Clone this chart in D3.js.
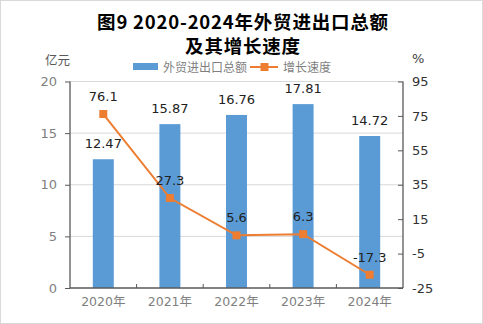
<!DOCTYPE html>
<html><head><meta charset="utf-8">
<script src="https://cdn.jsdelivr.net/npm/d3@7"></script>
<style>body{margin:0;background:#fff}svg{display:block}text{font-family:"Noto Sans CJK SC","Noto Sans",sans-serif}</style>
</head><body><svg id="c" width="483" height="324"></svg>
<script>
const categories = ["2020年","2021年","2022年","2023年","2024年"];
const tradeValues = [12.47, 15.87, 16.76, 17.81, 14.72];
const growthRates = [76.1, 27.3, 5.6, 6.3, -17.3];
const leftTicks = [0,5,10,15,20];
const rightTicks = [-25,-5,15,35,55,75,95];
const titleLines = ["图9 2020-2024年外贸进出口总额","及其增长速度"];
const seriesNames = ["外贸进出口总额","增长速度"];

const svg = d3.select("#c");
const W=483,H=324;
svg.append("rect").attr("x",0.5).attr("y",0.5).attr("width",W-1).attr("height",H-1)
  .attr("fill","#fff").attr("stroke","#d9d9d9");
const L=70,R=403,T=81.5,B=288;
const x = d3.scaleBand().domain(categories).range([L,R]).paddingInner(0.685).paddingOuter(0.3425);
const xb = d3.scaleBand().domain(categories).range([L,R]);
const yL = d3.scaleLinear().domain([0,20]).range([B,T]);
const yR = d3.scaleLinear().domain([-25,95]).range([B,T]);
const fmt = d => String(d);

// gridlines
svg.append("g").selectAll("line").data(leftTicks.filter(d=>d>0)).join("line")
  .attr("x1",L).attr("x2",R).attr("y1",d=>yL(d)).attr("y2",d=>yL(d)).attr("stroke","#d9d9d9");

// title
svg.append("g").selectAll("text").data(titleLines).join("text")
  .attr("x",243).attr("y",(d,i)=>29+i*24).attr("text-anchor","middle")
  .attr("font-size",18.5).attr("font-weight","bold").attr("letter-spacing",0.8).attr("fill","#000").text(d=>d);

// units
svg.append("text").attr("x",45).attr("y",65).attr("font-size",12.5).attr("fill","#595959").text("亿元");
svg.append("text").attr("x",412).attr("y",63).attr("font-size",13).attr("fill","#404040").style("font-family","'DejaVu Sans',sans-serif").text("%");

// legend
const lg = svg.append("g");
lg.append("rect").attr("x",133).attr("y",63).attr("width",25).attr("height",7).attr("fill","#5B9BD5");
lg.append("text").attr("x",163).attr("y",71.5).attr("font-size",12).attr("fill","#7f7f7f").text(seriesNames[0]);
lg.append("line").attr("x1",250).attr("x2",278).attr("y1",67).attr("y2",67).attr("stroke","#ED7D31").attr("stroke-width",2);
lg.append("rect").attr("x",260.5).attr("y",63).attr("width",8).attr("height",8).attr("fill","#ED7D31");
lg.append("text").attr("x",283).attr("y",71.5).attr("font-size",12).attr("fill","#7f7f7f").text(seriesNames[1]);

// bars
svg.append("g").selectAll("rect").data(tradeValues).join("rect")
  .attr("x",(d,i)=>x(categories[i])).attr("width",x.bandwidth())
  .attr("y",d=>yL(d)).attr("height",d=>B-yL(d)).attr("fill","#5B9BD5");

// axes
const axL = svg.append("g").attr("transform",`translate(${L},0)`)
  .call(d3.axisLeft(yL).tickValues(leftTicks).tickFormat(fmt).tickSize(5).tickPadding(8));
const axR = svg.append("g").attr("transform",`translate(${R},0)`)
  .call(d3.axisRight(yR).tickValues(rightTicks).tickFormat(fmt).tickSize(0).tickPadding(9));
axR.selectAll(".tick").append("line").attr("x1",-5).attr("x2",0).attr("stroke","#595959");
const axB = svg.append("g").attr("transform",`translate(0,${B})`)
  .call(d3.axisBottom(xb).tickSize(0).tickPadding(9));
// boundary ticks on bottom axis
svg.append("g").selectAll("line").data(categories.slice(1)).join("line")
  .attr("x1",d=>xb(d)).attr("x2",d=>xb(d)).attr("y1",B).attr("y2",B-4).attr("stroke","#595959");
[axL,axR,axB].forEach(a=>{
  a.selectAll(".domain").attr("stroke","#595959").attr("stroke-width",1.3);
  a.selectAll(".tick line").attr("stroke","#595959");
  a.selectAll("text").attr("font-size",13).style("font-family","'DejaVu Sans',sans-serif");
});
axL.selectAll("text").attr("fill","#7f7f7f");
axR.selectAll("text").attr("fill","#333");
axB.selectAll("text").attr("font-size",12.5).attr("fill","#7f7f7f").style("font-family","'DejaVu Sans','Noto Sans CJK SC',sans-serif");
axL.select(".domain").attr("d",`M-0,${T}V${B}`);
axR.select(".domain").attr("d",`M0,${T}V${B}`);
axB.select(".domain").attr("d",`M${L},0H${R}`);

// line
const cx = i => xb(categories[i]) + xb.bandwidth()/2;
svg.append("path").datum(growthRates)
  .attr("d",d3.line().x((d,i)=>cx(i)).y(d=>yR(d)))
  .attr("fill","none").attr("stroke","#ED7D31").attr("stroke-width",2);
svg.append("g").selectAll("rect").data(growthRates).join("rect")
  .attr("x",(d,i)=>cx(i)-4).attr("y",d=>yR(d)-4).attr("width",8).attr("height",8).attr("fill","#ED7D31");

// labels
svg.append("g").selectAll("text").data(tradeValues).join("text")
  .attr("x",(d,i)=>cx(i)).attr("y",d=>yL(d)-11).attr("text-anchor","middle")
  .attr("font-size",13).attr("fill","#222").style("font-family","'DejaVu Sans',sans-serif").text(d=>d.toFixed(2).replace(/0$/,""));
svg.append("g").selectAll("text").data(growthRates).join("text")
  .attr("x",(d,i)=>cx(i)).attr("y",d=>yR(d)-13).attr("text-anchor","middle")
  .attr("font-size",13).attr("fill","#222").style("font-family","'DejaVu Sans',sans-serif").text(fmt);
</script></body></html>
